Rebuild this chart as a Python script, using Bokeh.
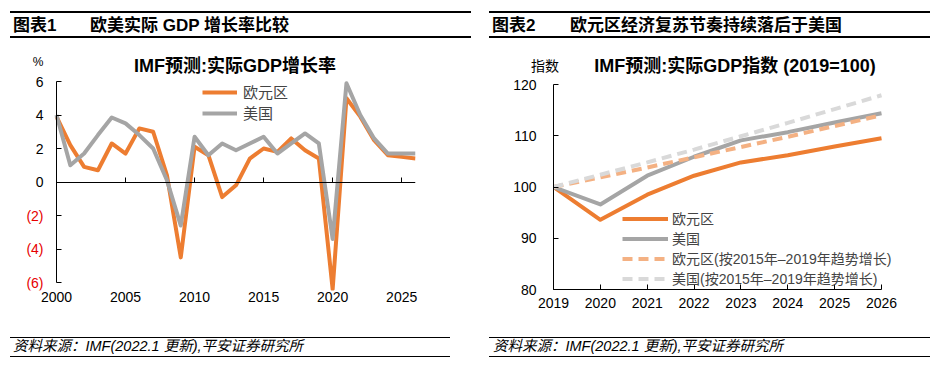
from bokeh.plotting import figure
from bokeh.models import (Range1d, Legend, LegendItem, FixedTicker, LinearAxis,
                          CustomJSTickFormatter, Div)
from bokeh.layouts import row, column
from bokeh.core.properties import value
from bokeh.embed import file_html
from bokeh.resources import INLINE

# ---------------- data ----------------
years1 = list(range(2000, 2027))
euro_growth = [3.9, 2.2, 0.9, 0.7, 2.3, 1.7, 3.2, 3.0, 0.4, -4.5, 2.1, 1.6, -0.9, -0.2,
               1.4, 2.0, 1.8, 2.6, 1.9, 1.4, -6.4, 5.0, 3.9, 2.5, 1.6, 1.5, 1.4]
us_growth = [4.0, 1.0, 1.7, 2.8, 3.85, 3.5, 2.8, 2.0, 0.1, -2.6, 2.7, 1.6, 2.3, 1.9,
             2.3, 2.7, 1.7, 2.3, 2.9, 2.3, -3.4, 5.9, 4.0, 2.6, 1.7, 1.7, 1.7]
x_ticks1 = [2000, 2005, 2010, 2015, 2020, 2025]
y_ticks1 = [-6, -4, -2, 0, 2, 4, 6]

years2 = list(range(2019, 2027))
euro_index = [100, 93.6, 98.5, 102.2, 104.8, 106.2, 107.9, 109.5]
us_index = [100, 96.6, 102.2, 105.9, 109.1, 110.7, 112.6, 114.4]
euro_trend = [100, 101.9, 103.8, 105.8, 107.8, 109.8, 111.9, 114.0]
us_trend = [100, 102.4, 104.8, 107.3, 109.9, 112.5, 115.2, 117.9]
y_ticks2 = [80, 90, 100, 110, 120]

FONT = "Liberation Sans, Noto Sans CJK SC"
CSSFONT = "'Liberation Sans','Noto Sans CJK SC',sans-serif"
ORANGE = "#ED7D31"
GRAY = "#A5A5A5"
LORANGE = "#F4B183"
LGRAY = "#D9D9D9"
RED = "#E60000"
SOURCE = "资料来源：IMF(2022.1 更新),平安证券研究所"


def hline(x0, x1, y):
    return ('<div style="position:absolute;left:%gpx;top:%gpx;width:%gpx;height:1.5px;'
            'background:#000;"></div>' % (x0, y - 0.75, x1 - x0))


def txt(x, y, s, size, extra="", center=False):
    tr = "translate(-50%,-50%)" if center else "translateY(-50%)"
    return ('<div style="position:absolute;left:%gpx;top:%gpx;transform:%s;font-size:%s;'
            'white-space:nowrap;line-height:1.2;%s">%s</div>' % (x, y, tr, size, extra, s))


def box(w, h, parts):
    html = ('<div style="position:relative;width:%dpx;height:%dpx;font-family:%s;color:#000;">'
            % (w, h, CSSFONT)) + "".join(parts) + "</div>"
    return Div(text=html, width=w, height=h, margin=(0, 0, 0, 0))


def style_axes(p):
    for ax in p.axis:
        ax.axis_line_color = "black"
        ax.axis_line_width = 1
        ax.major_tick_in = 5
        ax.major_tick_out = 0
        ax.minor_tick_line_color = None
        ax.major_tick_line_color = "black"
        ax.major_label_text_font = FONT
        ax.major_label_text_font_size = "14px"
        ax.major_label_text_color = "black"
    p.grid.visible = False
    p.outline_line_color = None


# ---------------- chart 1 ----------------
px1 = (415 - 56) / 26.0      # pixels per year
py1 = (282 - 81) / 12.0      # pixels per percentage point
c1 = figure(width=475, height=255,
            x_range=Range1d(2000 - 48 / px1, 2026),
            y_range=Range1d(-6 - 8 / py1, 6 + 6 / py1),
            min_border_left=8, min_border_right=60, min_border_top=0, min_border_bottom=40,
            toolbar_location=None, output_backend="svg")
style_axes(c1)
c1.yaxis.fixed_location = 2000
c1.yaxis.bounds = (-6, 6)
c1.yaxis.ticker = FixedTicker(ticks=y_ticks1)
c1.yaxis.formatter = CustomJSTickFormatter(code="return '';")
c1.yaxis.major_label_standoff = 0
c1.xaxis.ticker = FixedTicker(ticks=x_ticks1)
c1.xaxis.axis_line_color = None
c1.xaxis.major_tick_line_color = None
c1.xaxis.major_label_standoff = 1

zero_axis = LinearAxis(fixed_location=0, bounds=(2000, 2026), ticker=FixedTicker(ticks=x_ticks1),
                       formatter=CustomJSTickFormatter(code="return '';"),
                       major_tick_in=5, major_tick_out=0, major_label_standoff=0,
                       axis_line_color="black", major_tick_line_color="black",
                       minor_tick_line_color=None)
c1.add_layout(zero_axis, "below")

ylab = ["(%d)" % abs(t) if t < 0 else str(t) for t in y_ticks1]
ycol = [RED if t < 0 else "black" for t in y_ticks1]
c1.text(x=[2000] * len(y_ticks1), y=y_ticks1, text=ylab, text_color=ycol, x_offset=-13,
        text_align="right", text_baseline="middle", text_font=value(FONT),
        text_font_size="14px")

r_e = c1.line(years1, euro_growth, line_color=ORANGE, line_width=4, line_join="round")
r_u = c1.line(years1, us_growth, line_color=GRAY, line_width=4, line_join="round")

leg1 = Legend(items=[LegendItem(label="欧元区", renderers=[r_e]),
                     LegendItem(label="美国", renderers=[r_u])],
              location=(194, 167), glyph_width=35, glyph_height=20, label_height=20,
              spacing=0, padding=0, margin=0, label_standoff=6, border_line_color=None,
              background_fill_alpha=0, label_text_font=FONT, label_text_font_size="15px")
c1.add_layout(leg1)

# ---------------- chart 2 ----------------
px2 = (881 - 553) / 7.0
c2 = figure(width=474, height=255, x_range=Range1d(2019, 2026 + 30 / px2), y_range=Range1d(80, 120),
            min_border_left=78, min_border_right=38, min_border_top=9, min_border_bottom=41,
            toolbar_location=None, output_backend="svg")
style_axes(c2)
c2.yaxis.ticker = FixedTicker(ticks=y_ticks2)
c2.yaxis.major_label_standoff = 17
c2.xaxis.ticker = FixedTicker(ticks=years2)
c2.xaxis.bounds = (2019, 2026)
c2.xaxis.major_label_standoff = 8

r1 = c2.line(years2, euro_index, line_color=ORANGE, line_width=4, line_join="round")
r2 = c2.line(years2, us_index, line_color=GRAY, line_width=4, line_join="round")
r3 = c2.line(years2, euro_trend, line_color=LORANGE, line_width=4, line_dash="10 6")
r4 = c2.line(years2, us_trend, line_color=LGRAY, line_width=4, line_dash="10 6")

leg2 = Legend(items=[LegendItem(label="欧元区", renderers=[r1]),
                     LegendItem(label="美国", renderers=[r2]),
                     LegendItem(label="欧元区(按2015年–2019年趋势增长)", renderers=[r3]),
                     LegendItem(label="美国(按2015年–2019年趋势增长)", renderers=[r4])],
              location=(69, 1), glyph_width=46, glyph_height=19, label_height=19,
              spacing=0, padding=0, margin=0, label_standoff=4, border_line_color=None,
              background_fill_alpha=0, label_text_font=FONT, label_text_font_size="14px")
c2.add_layout(leg2)

# ---------------- headers / footers ----------------
bold = "font-weight:bold;"
head1 = box(475, 75, [hline(10, 471, 12), hline(10, 471, 37),
                      txt(13, 25.5, "图表1", "17px", bold),
                      txt(90, 25.5, "欧美实际 GDP 增长率比较", "17px", bold),
                      txt(38, 62, "%", "12px", "", True),
                      txt(235, 67, "IMF预测:实际GDP增长率", "18px", bold, True)])
head2 = box(474, 75, [hline(14, 455, 12), hline(14, 455, 37),
                      txt(17, 25.5, "图表2", "17px", bold),
                      txt(95, 25.5, "欧元区经济复苏节奏持续落后于美国", "17px", bold),
                      txt(70, 66, "指数", "14px", "", True),
                      txt(260, 67, "IMF预测:实际GDP指数 (2019=100)", "18px", bold, True)])
foot1 = box(475, 40, [hline(10, 450, 7.7), hline(10, 450, 26.7),
                      txt(13, 17.2, SOURCE, "14.5px", "font-style:italic;")])
foot2 = box(474, 40, [hline(14, 455, 7.7), hline(14, 455, 26.7),
                      txt(18, 17.2, SOURCE, "14.5px", "font-style:italic;")])

layout = row(column(head1, c1, foot1), column(head2, c2, foot2))

open("out.html", "w").write(file_html(layout, INLINE))
